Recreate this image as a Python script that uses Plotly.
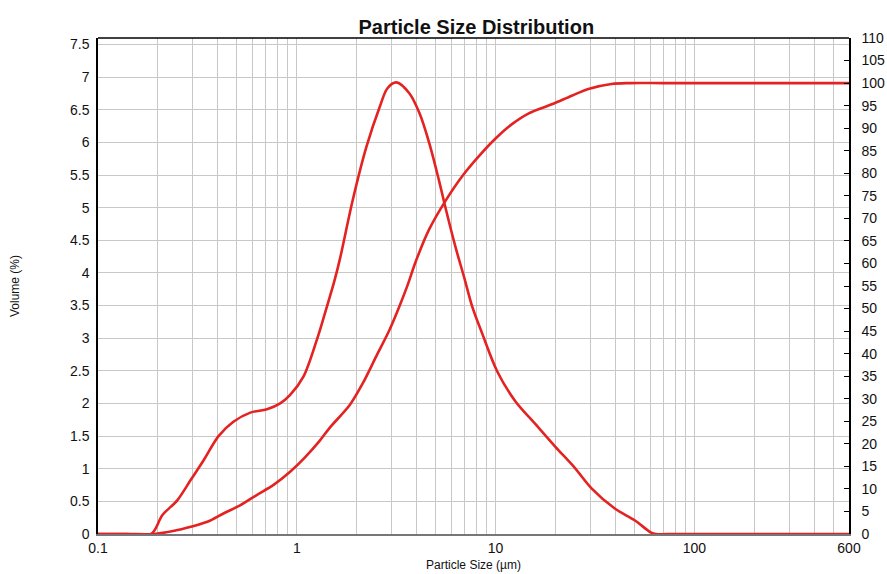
import plotly.graph_objects as go

# Volume frequency distribution (left axis, %)
freq_size_um = [0.1, 0.14, 0.185, 0.211, 0.251, 0.293, 0.340, 0.404, 0.480, 0.584, 0.708,
                0.825, 0.926, 1.08, 1.26, 1.385, 1.55, 1.65, 1.91, 2.24, 2.61,
                2.86, 3.17, 3.69, 4.14, 4.64, 5.21, 5.62, 6.31, 6.94, 7.64,
                8.57, 10.2, 12.6, 15.8, 19.95, 25.1, 30.4, 39.8, 50.1, 60.7,
                64.1, 80, 150, 300, 600]
volume_pct = [0, 0, 0, 0.29, 0.52, 0.83, 1.13, 1.50, 1.72, 1.86, 1.91,
              2.0, 2.13, 2.41, 2.97, 3.38, 3.89, 4.22, 5.11, 5.93, 6.54,
              6.83, 6.92, 6.75, 6.45, 5.99, 5.40, 4.98, 4.38, 3.94, 3.48,
              3.07, 2.49, 2.03, 1.69, 1.34, 1.01, 0.70, 0.39, 0.21, 0.02,
              0, 0, 0, 0, 0]

# Cumulative undersize (right axis, %)
cum_size_um = [0.1, 0.14, 0.191, 0.242, 0.293, 0.355, 0.430, 0.521, 0.631, 0.764, 0.926,
               1.1, 1.3, 1.467, 1.847, 2.153, 2.51, 2.93, 3.285, 3.61, 3.98,
               4.64, 5.62, 6.81, 8.25, 10.0, 12.1, 14.7, 19.2, 24.2, 29.3,
               38.3, 47.3, 70, 150, 300, 600]
cumulative_pct = [0, 0, 0, 0.7, 1.6, 2.7, 4.6, 6.4, 8.7, 10.9, 13.8,
                  17.0, 20.6, 23.6, 28.6, 33.5, 39.4, 45.3, 50.5, 55.2, 60.6,
                  67.6, 74.0, 79.4, 83.8, 87.7, 90.9, 93.3, 95.3, 97.2, 98.7,
                  99.8, 100, 100, 100, 100, 100]

x_tick_vals = [0.1, 1, 10, 100, 600]
x_tick_text = ["0.1", "1", "10", "100", "600"]
x_minor_vals = ([k / 10 for k in range(2, 10)] + list(range(2, 10))
                + [k * 10 for k in range(2, 10)] + [k * 100 for k in range(2, 6)])

RED = "#e42222"
FONT = "Liberation Sans, Arial, sans-serif"

fig = go.Figure()
fig.add_trace(go.Scatter(x=freq_size_um, y=volume_pct, mode="lines",
                         line=dict(color=RED, width=2.6, shape="spline", smoothing=0.9),
                         showlegend=False))
fig.add_trace(go.Scatter(x=cum_size_um, y=cumulative_pct, mode="lines", yaxis="y2",
                         line=dict(color=RED, width=2.6, shape="spline", smoothing=0.9),
                         showlegend=False))

fig.update_layout(
    width=887, height=574,
    margin=dict(l=98, r=38, t=38, b=40),
    paper_bgcolor="white", plot_bgcolor="white",
    font=dict(family=FONT, size=14, color="#111111"),
    title=dict(text="<b>Particle Size Distribution</b>", x=0.537, xanchor="center",
               y=0.953, yanchor="middle", font=dict(size=20, color="#111111")),
    xaxis=dict(type="log", range=[-1, 2.77815], tickvals=x_tick_vals, ticktext=x_tick_text,
               showgrid=True, gridcolor="#c8c8c8", gridwidth=1, automargin=False,
               minor=dict(tickvals=x_minor_vals, showgrid=True, gridcolor="#c8c8c8",
                          gridwidth=1, ticks=""),
               showline=True, linecolor="#777777", linewidth=1.5, mirror=False,
               ticks="", zeroline=False,
               title=dict(text="Particle Size (µm)", font=dict(size=12), standoff=6)),
    yaxis=dict(range=[0, 7.6], dtick=0.5, tick0=0, showgrid=True, gridcolor="#c8c8c8",
               gridwidth=1, showline=True, linecolor="black", linewidth=1.5,
               ticks="", zeroline=False, ticklabelstandoff=4, automargin=False,
               title=dict(text="Volume (%)", font=dict(size=12), standoff=48)),
    yaxis2=dict(range=[0, 110], dtick=5, tick0=0, overlaying="y", side="right",
                showgrid=False, showline=True, linecolor="black", linewidth=1.5,
                ticks="inside", ticklen=5, tickcolor="black", zeroline=False,
                ticklabelstandoff=8, automargin=False),
    shapes=[dict(type="line", xref="paper", yref="paper", x0=0, x1=1, y0=1, y1=1,
                 line=dict(color="black", width=1.5))],
)

fig.write_html("out.html")
